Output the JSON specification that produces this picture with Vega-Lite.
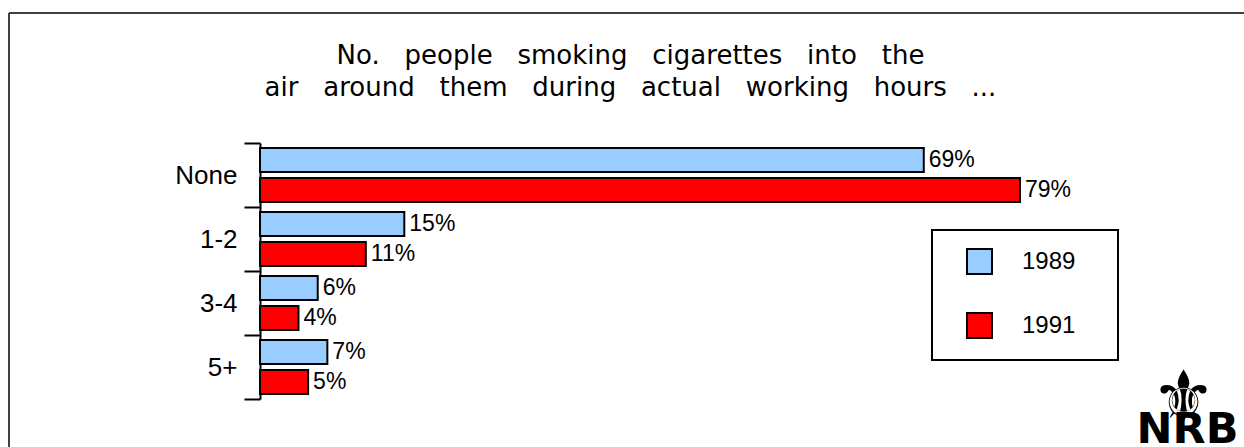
{
  "$schema": "https://vega.github.io/schema/vega-lite/v6.json",
  "width": 1235,
  "height": 434,
  "autosize": {"type": "none"},
  "padding": {"left": 9, "top": 13, "right": 0, "bottom": 0},
  "background": "white",
  "config": {
    "view": {"stroke": "#404040", "strokeWidth": 2, "strokeDash": [1235, 1669, 434, 0]},
    "font": "Liberation Sans"
  },
  "title": {
    "text": ["No. \u00a0\u00a0people \u00a0\u00a0smoking \u00a0\u00a0cigarettes \u00a0\u00a0into \u00a0\u00a0the", "air \u00a0\u00a0around \u00a0\u00a0them \u00a0\u00a0during \u00a0\u00a0actual \u00a0\u00a0working \u00a0\u00a0hours \u00a0\u00a0..."],
    "orient": "top",
    "anchor": "middle",
    "frame": "group",
    "offset": -122,
    "baseline": "alphabetic",
    "lineHeight": 32,
    "font": "DejaVu Sans",
    "fontSize": 26,
    "fontWeight": "normal",
    "color": "black",
    "dx": 4
  },
  "data": {
    "values": [
      {"category": "None", "year": "1989", "share": 0.69},
      {"category": "None", "year": "1991", "share": 0.79},
      {"category": "1-2", "year": "1989", "share": 0.15},
      {"category": "1-2", "year": "1991", "share": 0.11},
      {"category": "3-4", "year": "1989", "share": 0.06},
      {"category": "3-4", "year": "1991", "share": 0.04},
      {"category": "5+", "year": "1989", "share": 0.07},
      {"category": "5+", "year": "1991", "share": 0.05}
    ]
  },
  "encoding": {
    "y": {
      "field": "category",
      "type": "nominal",
      "sort": ["None", "1-2", "3-4", "5+"],
      "scale": {"range": [130, 386], "paddingInner": 0, "paddingOuter": 0},
      "axis": {
        "orient": "left",
        "offset": -251,
        "title": "\u269c",
        "titleFont": "DejaVu Sans",
        "titleFontSize": 72,
        "titleFontWeight": "bold",
        "titleColor": "black",
        "titleAngle": 0,
        "titleAlign": "center",
        "titleBaseline": "alphabetic",
        "titleX": 923,
        "titleY": 408,
        "grid": false,
        "domainColor": "black",
        "domainWidth": 2,
        "tickColor": "black",
        "tickWidth": 2,
        "tickSize": 16,
        "tickBand": "extent",
        "labelPadding": 7,
        "labelFontSize": 26,
        "labelFont": "Liberation Sans",
        "labelColor": "black"
      }
    },
    "yOffset": {
      "field": "year",
      "type": "nominal",
      "scale": {"paddingInner": 0.2, "paddingOuter": 0.1667}
    },
    "x": {
      "field": "share",
      "type": "quantitative",
      "scale": {"domain": [0, 1], "range": [251, 1213]},
      "axis": {
        "orient": "bottom",
        "domain": false,
        "ticks": false,
        "labels": false,
        "grid": false,
        "title": "NRB",
        "titleFont": "DejaVu Sans",
        "titleFontSize": 43,
        "titleFontWeight": "bold",
        "titleColor": "black",
        "titleAlign": "center",
        "titleBaseline": "alphabetic",
        "titleX": 1178,
        "titleY": -5,
        "minExtent": 0,
        "maxExtent": 0
      }
    }
  },
  "layer": [
    {
      "mark": {"type": "bar", "stroke": "black", "strokeWidth": 2},
      "encoding": {
        "fill": {
          "field": "year",
          "type": "nominal",
          "scale": {"domain": ["1989", "1991"], "range": ["#99CCFF", "#FF0000"]},
          "legend": {
            "title": "MMM",
            "titleOrient": "right",
            "titleFontSize": 10,
            "titleOpacity": 0,
            "titlePadding": 0,
            "orient": "none",
            "legendX": 923,
            "legendY": 217,
            "direction": "vertical",
            "strokeColor": "black",
            "padding": 18,
            "symbolType": "square",
            "symbolSize": 625,
            "symbolStrokeColor": "black",
            "symbolStrokeWidth": 2,
            "symbolOpacity": 1,
            "symbolOffset": 16,
            "labelOffset": 29,
            "labelFontSize": 24,
            "labelFont": "Liberation Sans",
            "labelColor": "black",
            "rowPadding": 31,
            "encode": {"legend": {"update": {"strokeWidth": {"value": 2}}}}
          }
        }
      }
    },
    {
      "mark": {"type": "text", "align": "left", "baseline": "middle", "dx": 5, "fontSize": 23, "font": "Liberation Sans", "color": "black"},
      "encoding": {
        "text": {"field": "share", "type": "quantitative", "format": ".0%"}
      }
    }
  ]
}
